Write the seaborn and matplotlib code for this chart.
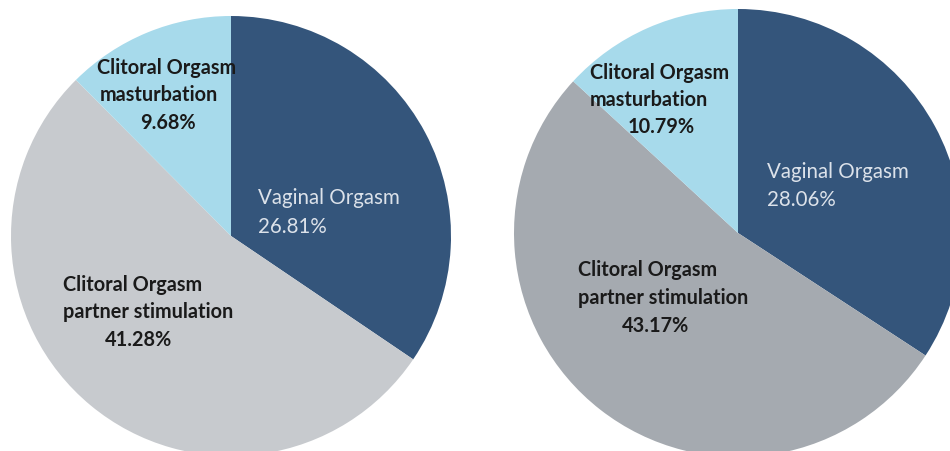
import matplotlib
matplotlib.use("Agg")
import matplotlib.pyplot as plt
import seaborn as sns

sns.set_theme(style="white")
plt.rcParams['font.family'] = ['Lato', 'DejaVu Sans']

categories = ["Vaginal Orgasm", "Clitoral Orgasm\npartner stimulation", "Clitoral Orgasm\nmasturbation"]
left_values = [26.81, 41.28, 9.68]
right_values = [28.06, 43.17, 10.79]
left_colors = ["#34557B", "#C7CACE", "#A7DAEB"]
right_colors = ["#34557B", "#A5AAB0", "#A7DAEB"]

W, H = 950, 452
fig = plt.figure(figsize=(W / 100, H / 100), dpi=100)
ax = fig.add_axes([0, 0, 1, 1])
ax.set_xlim(0, W)
ax.set_ylim(0, H)
ax.set_aspect('equal')
ax.axis('off')

def draw(values, colors, center, radius):
    ax.pie(values, colors=colors, startangle=90, counterclock=False,
           center=center, radius=radius, normalize=True,
           wedgeprops=dict(linewidth=0))

draw(left_values, left_colors, (231, H - 237), 220)
draw(right_values, right_colors, (738, H - 234), 224)
ax.set_xlim(0, W)
ax.set_ylim(0, H)

def txt(x, py, s, bold=True, color="#1a1a1a"):
    ax.text(x, H - py, s, ha='left', va='center',
            fontsize=14.3 if bold else 14.8,
            fontweight='bold' if bold else 'normal', color=color)

pct = lambda v: f"{v:.2f}%"
light = "#DCE2EA"

# left pie
m1, m2 = categories[2].split("\n")
p1, p2 = categories[1].split("\n")
txt(97, 68, m1); txt(100, 95, m2); txt(140, 123, pct(left_values[2]))
txt(258, 198, categories[0], bold=False, color=light)
txt(258, 227, pct(left_values[0]), bold=False, color=light)
txt(63, 285, p1); txt(63, 312, p2); txt(105, 340, pct(left_values[1]))

# right pie
txt(590, 73, m1); txt(590, 100, m2); txt(628, 127, pct(right_values[2]))
txt(767, 172, categories[0], bold=False, color=light)
txt(767, 200, pct(right_values[0]), bold=False, color=light)
txt(578, 270, p1); txt(578, 298, p2); txt(622, 326, pct(right_values[1]))

fig.savefig("out.png", dpi=100)
